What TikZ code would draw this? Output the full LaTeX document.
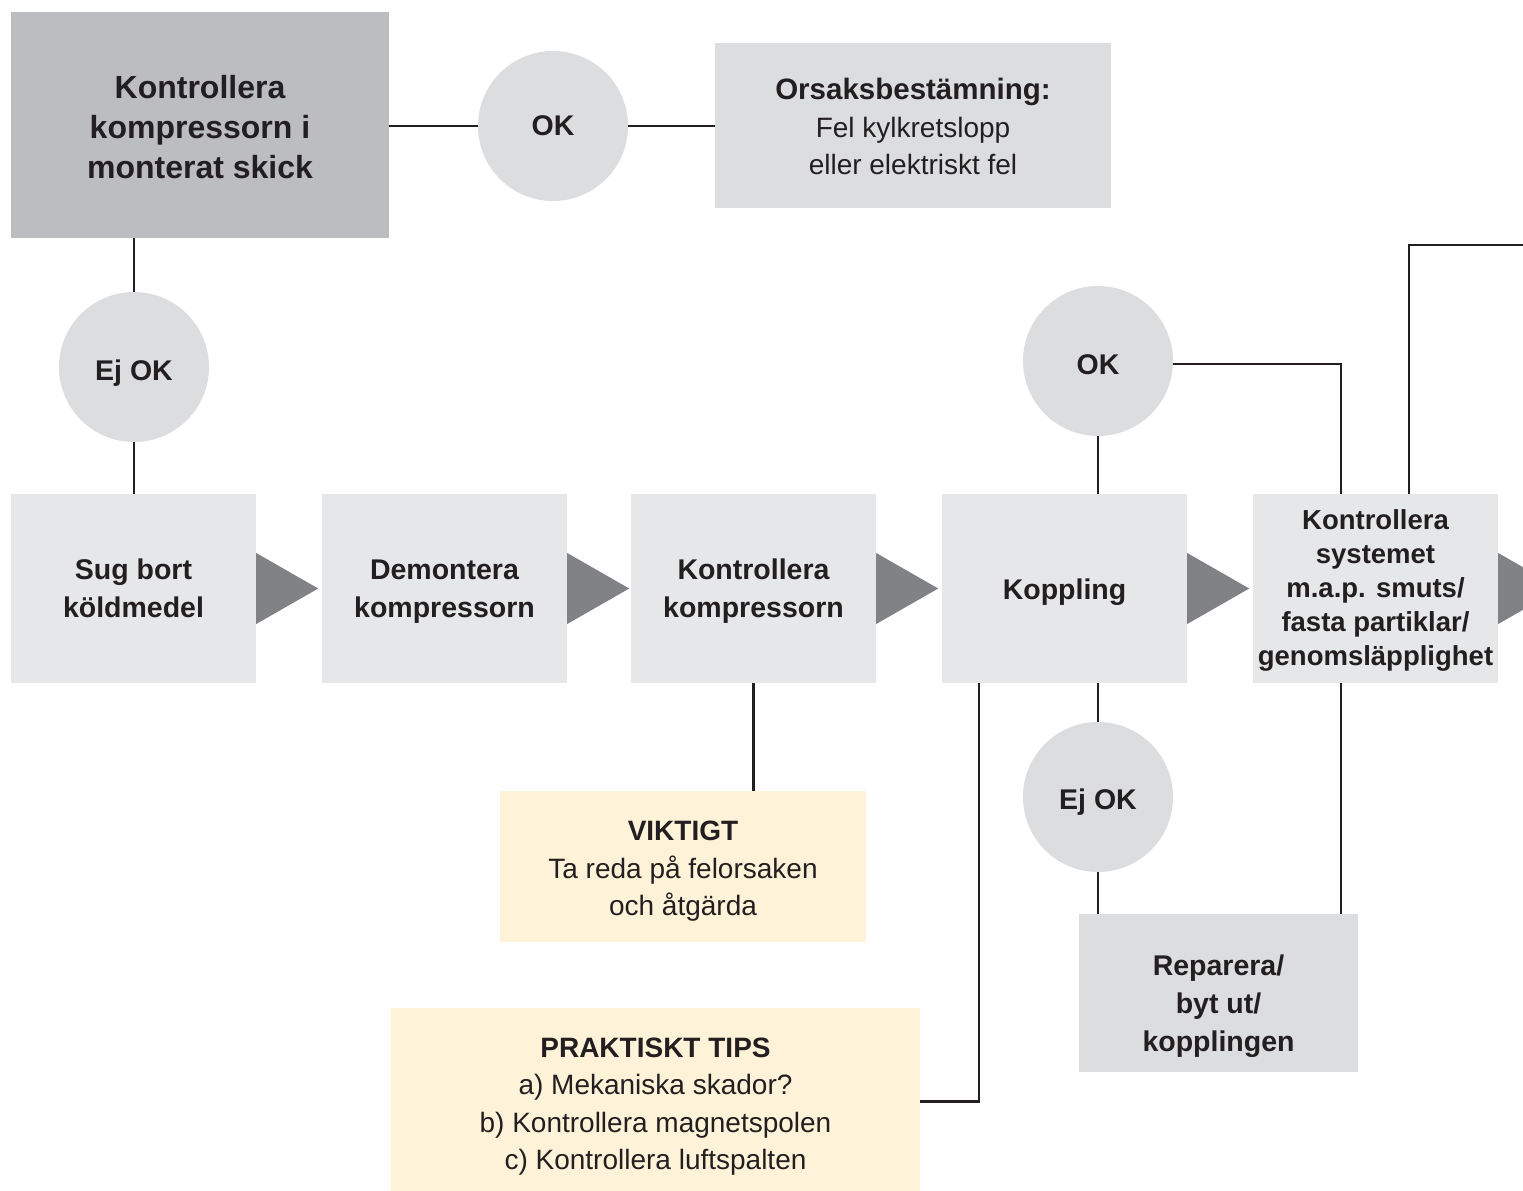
\documentclass[tikz,border=0pt]{standalone}
\usepackage{fontspec}
\setmainfont{Liberation Sans}
\definecolor{mork}{HTML}{BCBDC0}
\definecolor{ljus}{HTML}{E6E7E8}
\definecolor{mellan}{HTML}{DCDDDF}
\definecolor{pilgra}{HTML}{808285}
\definecolor{kram}{HTML}{FEF3D8}
\definecolor{linje}{HTML}{231F20}
\tikzset{
	ruta/.style={fill=ljus, inner sep=0pt, minimum width=245pt, minimum height=189pt},
	cirkel/.style={circle, fill=mellan, inner sep=0pt, minimum size=150pt},
	notis/.style={fill=kram, inner sep=0pt},
	fet/.style={align=center, inner sep=0pt, font=\fontsize{28.5}{38}\selectfont\bfseries, text=linje},
	tunn/.style={fet, font=\fontsize{28}{37.5}\selectfont},
	ledning/.style={draw=linje, line width=2.5pt},
	pil/.style={fill=pilgra}
}
\begin{document}
\begin{tikzpicture}[x=1pt, y=-1pt]
		\useasboundingbox[fill=white] (0,0) rectangle (1523,1191);
		% rutor och cirklar
		\node[ruta, fill=mork, minimum width=378pt, minimum height=226pt] (check) at (200,125) {};
		\node[cirkel] (ok1) at (553,126) {};
		\node[ruta, fill=mellan, minimum width=396pt, minimum height=165pt] (orsak) at (913,125.5) {};
		\node[cirkel] (ejok1) at (134,367) {};
		\node[ruta] (sug) at (133.5,588.5) {};
		\node[ruta] (demont) at (444.5,588.5) {};
		\node[ruta] (kontr) at (753.5,588.5) {};
		\node[ruta] (koppl) at (1064.5,588.5) {};
		\node[ruta] (system) at (1375.5,588.5) {};
		\foreach \b in {sug,demont,kontr,koppl,system}
			\fill[pil] ([yshift=35.5pt]\b.east) -- ++(62,35.5) -- ++(-62,35.5) -- cycle;
		\node[cirkel] (ok2) at (1098,361) {};
		\node[cirkel] (ejok2) at (1098,797) {};
		\node[ruta, fill=mellan, minimum width=279pt, minimum height=158pt] (repar) at (1218.5,993) {};
		\node[notis, minimum width=366pt, minimum height=151pt] (viktig) at (683,866.5) {};
		\node[notis, minimum width=529pt, minimum height=187pt] (tips) at (655.5,1101.5) {};
		% texter
		\node[fet, font=\fontsize{32}{40}\selectfont\bfseries] (checktxt) at ([yshift=-2pt]check) {Kontrollera\\kompressorn i\\monterat skick};
		\node[fet] (ok1txt) at (ok1) {OK};
		\node[tunn] (orsaktxt) at ([yshift=-1pt]orsak) {{\fontsize{29.5}{37.5}\selectfont\bfseries Orsaksbestämning:}\\Fel kylkretslopp\\eller elektriskt fel};
		\node[fet] (ejok1txt) at ([yshift=-6pt]ejok1) {Ej OK};
		\node[fet] (sugtxt) at (sug) {Sug bort\\köldmedel};
		\node[fet] (demonttxt) at ([yshift=-3pt]demont) {Demontera\\kompressorn};
		\node[fet] (kontrtxt) at ([yshift=-3pt]kontr) {Kontrollera\\kompressorn};
		\node[fet] (kopptxt) at ([yshift=-4pt]koppl) {Koppling};
		\node[fet, font=\fontsize{27.5}{34}\selectfont\bfseries] (systemtxt) at ([yshift=-2pt]system) {Kontrollera\\systemet\\m.a.p. smuts/\\fasta partiklar/\\genomsläpplighet};
		\node[fet] (ok2txt) at ([yshift=-4pt]ok2) {OK};
		\node[fet] (ejok2txt) at ([yshift=-5pt]ejok2) {Ej OK};
		\node[fet] (repartxt) at ([yshift=-13pt]repar) {Reparera/\\byt ut/\\kopplingen};
		\node[tunn] (viktigtxt) at ([yshift=-5pt]viktig) {\textbf{VIKTIGT}\\Ta reda på felorsaken\\och åtgärda};
		\node[tunn] (tipstxt) at ([yshift=-5pt]tips) {\textbf{PRAKTISKT TIPS}\\a) Mekaniska skador?\\b) Kontrollera magnetspolen\\c) Kontrollera luftspalten};
		% ledningar
		\coordinate (sysin) at ([xshift=-34.5pt]system.north);
		\coordinate (sysut) at ([xshift=33.5pt]system.north);
		\coordinate (kopplut) at ([xshift=37pt]koppl.south west);
		\coordinate (kant) at (1523,245);
		\draw[ledning] (ok1.west -| check.east) -- (ok1.west);
		\draw[ledning] (ok1.east) -- (ok1.east -| orsak.west);
		\draw[ledning] (ejok1.north) -- (ejok1.north |- check.south);
		\draw[ledning] (ejok1.south) -- (ejok1.south |- sug.north);
		\draw[ledning] (kontr.south) -- (kontr.south |- viktig.north);
		\draw[ledning] (kopplut) |- (tips.east);
		\draw[ledning] (ok2.south) -- (ok2.south |- koppl.north);
		\draw[ledning] ([yshift=-3pt]ok2.east) -| (sysin);
		\draw[ledning] (ejok2.north) -- (ejok2.north |- koppl.south);
		\draw[ledning] (ejok2.south) -- (ejok2.south |- repar.north);
		\draw[ledning] (sysin |- system.south) -- (sysin |- repar.north);
		\draw[ledning] (sysut) |- (kant);
	\end{tikzpicture}
\end{document}
